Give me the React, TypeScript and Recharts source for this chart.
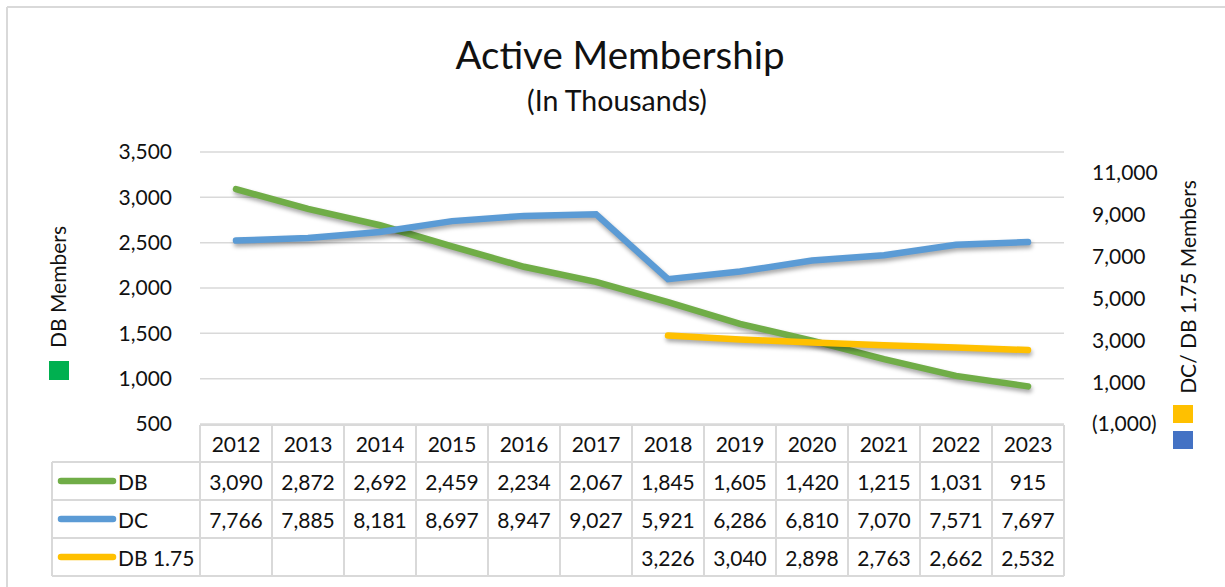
import React from 'react';
import { LineChart, Line, XAxis, YAxis, CartesianGrid } from 'recharts';

const years = ['2012', '2013', '2014', '2015', '2016', '2017', '2018', '2019', '2020', '2021', '2022', '2023'];
const dbValues = [3090, 2872, 2692, 2459, 2234, 2067, 1845, 1605, 1420, 1215, 1031, 915];
const dcValues = [7766, 7885, 8181, 8697, 8947, 9027, 5921, 6286, 6810, 7070, 7571, 7697];
const db175Values: (number | null)[] = [null, null, null, null, null, null, 3226, 3040, 2898, 2763, 2662, 2532];
const leftTicks = [500, 1000, 1500, 2000, 2500, 3000, 3500];
const rightTicks = [-1000, 1000, 3000, 5000, 7000, 9000, 11000];

const seriesNames = ['DB', 'DC', 'DB 1.75'];
const seriesColors = ['#70AD47', '#5B9BD5', '#FFC000'];
const seriesValues = [dbValues, dcValues, db175Values];

const data = years.map((y, i) => ({ year: y, db: dbValues[i], dc: dcValues[i], db175: db175Values[i] }));

const FONT = 'Lato, "Open Sans", sans-serif';
const GRID = '#D9D9D9';

const fmt = (v: number | null) => {
  if (v === null || v === undefined) return '';
  const s = Math.abs(v).toLocaleString('en-US');
  return v < 0 ? `(${s})` : s;
};

const CELL_W = 72;
const HEAD_H = 37;
const ROW_H = 38;
const LEFT_COL_W = 148;

const TableTick = (props: any) => {
  const { x, y, payload } = props;
  const idx = years.indexOf(payload.value);
  const top = y + 1;
  const left = x - CELL_W / 2;
  const right = x + CELL_W / 2;
  const bottom = top + HEAD_H + ROW_H * 3;
  const els: any[] = [];
  els.push(<line key="l" x1={left} x2={left} y1={top} y2={bottom} stroke={GRID} strokeWidth={2} />);
  els.push(<line key="r" x1={right} x2={right} y1={top} y2={bottom} stroke={GRID} strokeWidth={2} />);
  els.push(<line key="t" x1={left} x2={right} y1={top} y2={top} stroke={GRID} strokeWidth={2} />);
  for (let r = 0; r < 3; r++) {
    const ry = top + HEAD_H + r * ROW_H;
    els.push(<line key={'h' + r} x1={left} x2={right} y1={ry} y2={ry} stroke={GRID} strokeWidth={2} />);
  }
  els.push(<line key="b" x1={left} x2={right} y1={bottom} y2={bottom} stroke={GRID} strokeWidth={2} />);
  els.push(
    <text key="yr" x={x} y={top + HEAD_H / 2} textAnchor="middle" dominantBaseline="central" fontSize={21} fontFamily={FONT} fill="#111">
      {payload.value}
    </text>
  );
  seriesValues.forEach((vals, r) => {
    els.push(
      <text key={'v' + r} x={x} y={top + HEAD_H + r * ROW_H + ROW_H / 2} textAnchor="middle" dominantBaseline="central" fontSize={21} fontFamily={FONT} fill="#111">
        {fmt(vals[idx])}
      </text>
    );
  });
  if (idx === 0) {
    const l0 = left - LEFT_COL_W;
    els.push(<line key="ll" x1={l0} x2={l0} y1={top + HEAD_H} y2={bottom} stroke={GRID} strokeWidth={2} />);
    for (let r = 0; r <= 3; r++) {
      const ry = top + HEAD_H + r * ROW_H;
      els.push(<line key={'lh' + r} x1={l0} x2={left} y1={ry} y2={ry} stroke={GRID} strokeWidth={2} />);
    }
    seriesNames.forEach((n, r) => {
      const cy = top + HEAD_H + r * ROW_H + ROW_H / 2;
      els.push(<line key={'k' + r} x1={l0 + 9} x2={l0 + 61} y1={cy} y2={cy} stroke={seriesColors[r]} strokeWidth={6.5} strokeLinecap="round" />);
      els.push(
        <text key={'n' + r} x={l0 + 66} y={cy} textAnchor="start" dominantBaseline="central" fontSize={21} fontFamily={FONT} fill="#111">
          {n}
        </text>
      );
    });
  }
  return <g>{els}</g>;
};

export default function App() {
  return (
    <div style={{ position: 'absolute', left: 0, top: 0, width: 1225, height: 587, background: '#fff', overflow: 'hidden' }}>
      <style>{`.recharts-line-curve { filter: drop-shadow(1px 3px 2px rgba(0,0,0,0.35)); }`}</style>
      <LineChart width={1225} height={587} data={data} margin={{ top: 152, right: 71, bottom: 0, left: 140 }}>
        <CartesianGrid yAxisId="left" vertical={false} stroke={GRID} strokeWidth={1.5} />
        <XAxis
          dataKey="year"
          height={163}
          padding={{ left: 36, right: 36 }}
          axisLine={false}
          tickLine={false}
          tickSize={0}
          tickMargin={0}
          interval={0}
          tick={<TableTick />}
        />
        <YAxis
          yAxisId="left"
          width={60}
          domain={[500, 3500]}
          ticks={leftTicks}
          axisLine={false}
          tickLine={false}
          tickSize={0}
          tickMargin={28}
          tickFormatter={fmt}
          tick={{ fontSize: 21, fill: '#111', fontFamily: FONT }}
        />
        <YAxis
          yAxisId="right"
          orientation="right"
          width={90}
          domain={[-1000, 12000]}
          ticks={rightTicks}
          axisLine={false}
          tickLine={false}
          tickSize={0}
          tickMargin={28}
          tickFormatter={fmt}
          tick={{ fontSize: 21, fill: '#111', fontFamily: FONT, textAnchor: 'start' }}
        />
        <Line yAxisId="left" dataKey="db" stroke={seriesColors[0]} strokeWidth={6.5} strokeLinecap="round" dot={false} isAnimationActive={false} type="linear" />
        <Line yAxisId="right" dataKey="dc" stroke={seriesColors[1]} strokeWidth={6.5} strokeLinecap="round" dot={false} isAnimationActive={false} type="linear" />
        <Line yAxisId="right" dataKey="db175" stroke={seriesColors[2]} strokeWidth={6.5} strokeLinecap="round" dot={false} isAnimationActive={false} type="linear" />
      </LineChart>
      <svg width={1225} height={587} style={{ position: 'absolute', left: 0, top: 0, pointerEvents: 'none' }}>
        <line x1={7} y1={7} x2={1225} y2={7} stroke={GRID} strokeWidth={2} />
        <line x1={7} y1={7} x2={7} y2={587} stroke={GRID} strokeWidth={2} />
        <text x={620} y={69} textAnchor="middle" fontSize={38.5} fontFamily={FONT} fill="#111">Active Membership</text>
        <text x={617} y={111} textAnchor="middle" fontSize={28.5} fontFamily={FONT} fill="#111">(In Thousands)</text>
        <text transform="translate(57,287) rotate(-90)" textAnchor="middle" dominantBaseline="central" fontSize={21} fontFamily={FONT} fill="#111">DB Members</text>
        <rect x={49} y={361} width={20} height={19} fill="#00B050" />
        <text transform="translate(1187,287) rotate(-90)" textAnchor="middle" dominantBaseline="central" fontSize={21} fontFamily={FONT} fill="#111">DC/ DB 1.75 Members</text>
        <rect x={1173} y={405} width={20} height={18} fill="#FFC000" />
        <rect x={1173} y={431} width={20} height={18} fill="#4472C4" />
      </svg>
    </div>
  );
}
